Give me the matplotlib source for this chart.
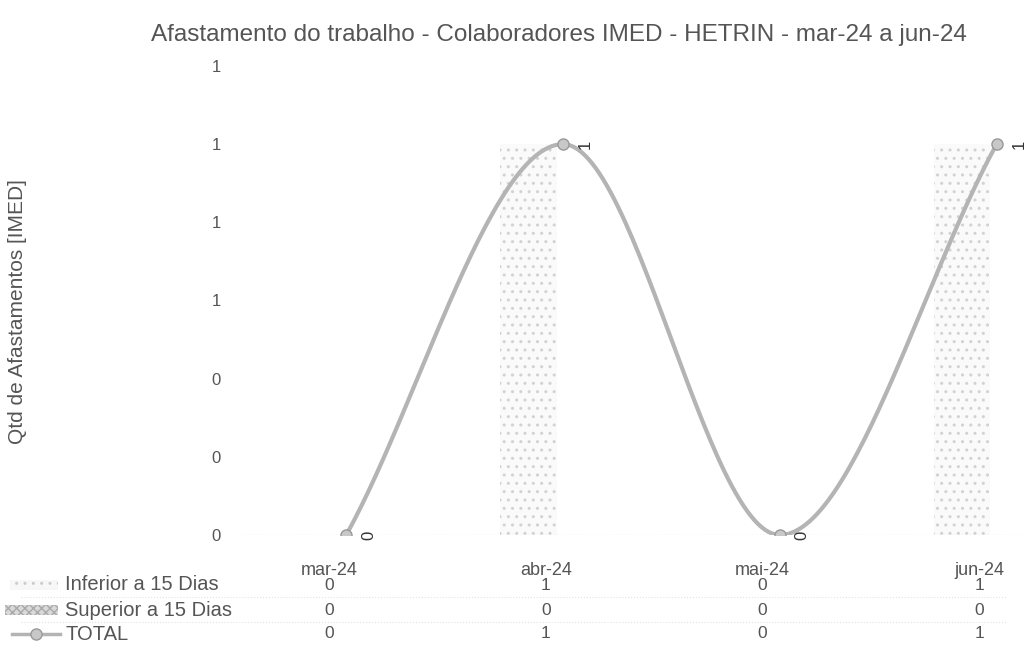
import numpy as np
import matplotlib
matplotlib.use("Agg")
import matplotlib.pyplot as plt
from matplotlib.patches import Rectangle
from matplotlib.lines import Line2D

plt.rcParams['font.family'] = ['Liberation Sans', 'DejaVu Sans']

# dados
meses = ['mar-24', 'abr-24', 'mai-24', 'jun-24']
inferior = [0, 1, 0, 1]
superior = [0, 0, 0, 0]
total = [0, 1, 0, 1]
linhas = ['Inferior a 15 Dias', 'Superior a 15 Dias', 'TOTAL']

txt = '#555555'
cinza = '#b4b4b4'

fig = plt.figure(figsize=(10.27, 6.70), dpi=100)
ax = fig.add_axes([0.2337, 0.2015, 0.7663, 0.70])

x = np.arange(len(meses))

# barras agrupadas
ax.bar(x - 0.10, inferior, width=0.26, facecolor='#fafafa', edgecolor='#d2d2d2',
       hatch='..', linewidth=0)
ax.bar(x + 0.16, superior, width=0.26, facecolor='#e0e0e0', linewidth=0)

# linha suavizada (Catmull-Rom / Hermite)
def suaviza(xs, ys, n=60):
    xs = np.asarray(xs, float)
    ys = np.asarray(ys, float)
    m = np.zeros_like(ys)
    m[1:-1] = (ys[2:] - ys[:-2]) / 2
    m[0] = ys[1] - ys[0]
    m[-1] = ys[-1] - ys[-2]
    px, py = [], []
    for i in range(len(xs) - 1):
        t = np.linspace(0, 1, n)
        h00 = 2*t**3 - 3*t**2 + 1
        h10 = t**3 - 2*t**2 + t
        h01 = -2*t**3 + 3*t**2
        h11 = t**3 - t**2
        py.extend(h00*ys[i] + h10*m[i] + h01*ys[i+1] + h11*m[i+1])
        px.extend(xs[i] + t*(xs[i+1] - xs[i]))
    return np.array(px), np.array(py)

xl = x + 0.06
sx, sy = suaviza(xl, total)
ax.plot(sx, sy, color=cinza, lw=3, solid_capstyle='round', zorder=3)
ax.plot(xl, total, 'o', ms=8, color='#c8c8c8', markeredgecolor='#999999', mew=1, zorder=4)
for xi, v in zip(xl, total):
    ax.annotate(str(v), (xi, v), xytext=(16, 0), textcoords='offset points',
                rotation=90, ha='center', va='center', fontsize=12, color='#333333')

ax.set_xlim(-0.43, 3.2)
ax.set_ylim(0, 1.2)
ax.set_yticks(np.arange(0, 1.21, 0.2))
ax.set_yticklabels([f'{v:.0f}' for v in np.arange(0, 1.21, 0.2)], fontsize=12, color=txt)
ax.set_xticks([])
ax.tick_params(axis='y', length=0, pad=14)
for s in ax.spines.values():
    s.set_visible(False)
ax.axhline(0, color='#dddddd', lw=1, ls=':', zorder=1)

fig.text(18/1027, 1 - 312/670, 'Qtd de Afastamentos [IMED]', rotation=90,
         ha='center', va='center', fontsize=15, color=txt)

# tabela de dados
trans = ax.get_xaxis_transform()
for xi, m in zip(x, meses):
    ax.text(xi - 0.02, -0.075, m, transform=trans, ha='center', va='center', fontsize=13,
            color=txt, clip_on=False)
linhas_y = [-0.107, -0.16, -0.211]
for yy, serie in zip(linhas_y, [inferior, superior, total]):
    for xi, v in zip(x, serie):
        ax.text(xi - 0.02, yy, str(v), transform=trans, ha='center', va='center',
                fontsize=12.5, color=txt, clip_on=False)

ys_fig = [1 - 585/670, 1 - 610/670, 1 - 634/670]
for yy, nome in zip(ys_fig, linhas):
    fig.text(65/1027, yy, nome, ha='left', va='center', fontsize=14.5, color=txt)

# linhas pontilhadas da tabela
for yy in [1 - 597/670, 1 - 622/670]:
    fig.add_artist(Line2D([0.02, 0.98], [yy, yy], color='#e3e3e3', lw=0.8, ls=':'))

# simbolos da legenda
fig.add_artist(Rectangle((10/1027, ys_fig[0] - 0.008), 48/1027, 0.016, facecolor='#f7f7f7',
                         edgecolor='#cccccc', hatch='..', lw=0))
fig.add_artist(Rectangle((5/1027, ys_fig[1] - 0.008), 53/1027, 0.016, facecolor='#d9d9d9',
                         edgecolor='#aaaaaa', hatch='xxxx', lw=0))
fig.add_artist(Line2D([12/1027, 60/1027], [ys_fig[2], ys_fig[2]], color=cinza, lw=2.5))
fig.add_artist(Line2D([36/1027], [ys_fig[2]], marker='o', ms=8, color='#c8c8c8',
                      markeredgecolor='#999999'))

fig.text(0.544, 1 - 35/670, 'Afastamento do trabalho - Colaboradores IMED - HETRIN - mar-24 a jun-24',
         ha='center', va='center', fontsize=17.5, color='#555555')

fig.savefig('out.png', dpi=100)
